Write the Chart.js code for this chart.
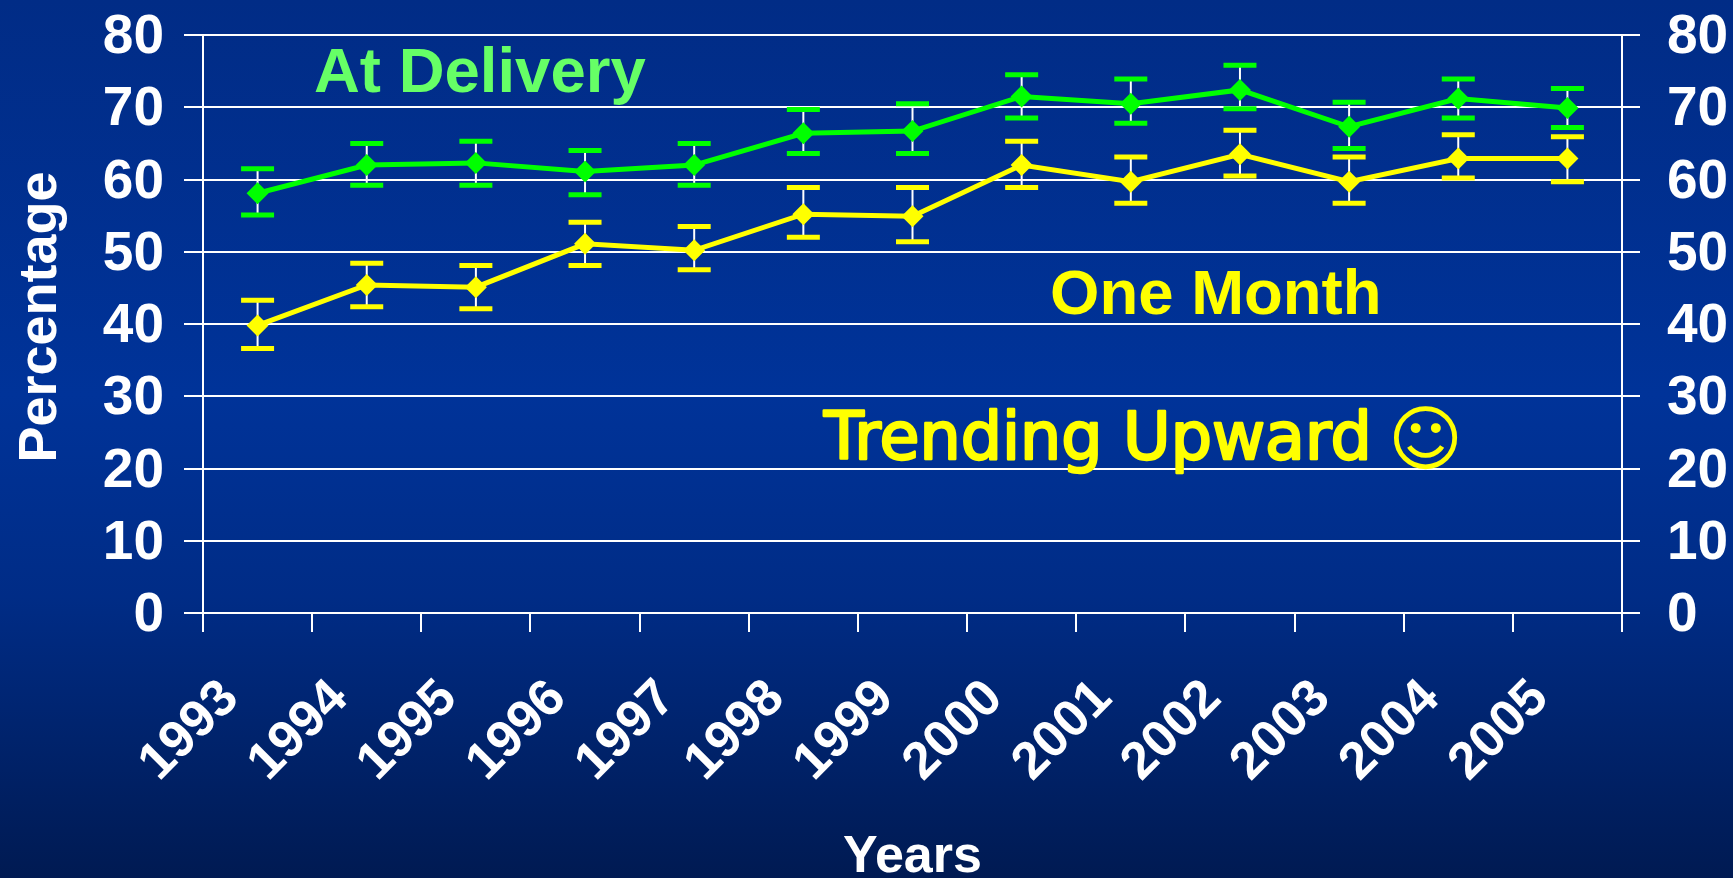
<!DOCTYPE html>
<html>
<head>
<meta charset="utf-8">
<style>html,body{margin:0;padding:0;background:#001a52;overflow:hidden}canvas{display:block}</style>
<script src="https://cdn.jsdelivr.net/npm/chart.js@4"></script>
</head>
<body>
<canvas id="c" width="1733" height="878"></canvas>
<script>
const years = ['1993','1994','1995','1996','1997','1998','1999','2000','2001','2002','2003','2004','2005'];
const deliveryValues = [58.1,62.0,62.3,61.1,62.0,66.4,66.7,71.5,70.5,72.4,67.3,71.2,69.9];
const deliveryUpper  = [61.5,65.0,65.3,64.0,65.0,69.7,70.5,74.5,73.9,75.8,70.7,73.9,72.6];
const deliveryLower  = [55.1,59.2,59.2,57.9,59.2,63.6,63.6,68.5,67.8,69.8,64.3,68.5,67.2];
const monthValues = [39.8,45.4,45.1,51.1,50.2,55.2,54.9,62.0,59.7,63.5,59.7,62.9,62.9];
const monthUpper  = [43.3,48.4,48.1,54.1,53.5,58.9,58.9,65.3,63.1,66.8,63.1,66.2,65.9];
const monthLower  = [36.6,42.4,42.1,48.1,47.5,52.0,51.4,58.9,56.7,60.5,56.7,60.2,59.7];

const GREEN='#00ff00', YELLOW='#ffff00', WHITE='#ffffff';
const tickFont={family:'"Liberation Sans"',size:55,weight:'bold'};
const xTickFont={family:'"Liberation Sans"',size:52,weight:'bold'};

const background={id:'background',beforeDraw(chart){
  const {ctx,width,height}=chart;
  const g=ctx.createLinearGradient(0,0,0,height);
  g.addColorStop(0,'#012c86');g.addColorStop(0.45,'#003399');g.addColorStop(0.68,'#002c86');g.addColorStop(1,'#001a52');
  ctx.save();ctx.fillStyle=g;ctx.fillRect(0,0,width,height);ctx.restore();
}};

const errorBars={id:'errorBars',beforeDatasetsDraw(chart){
  const {ctx}=chart,x=chart.scales.x,y=chart.scales.y;
  const sets=[[deliveryUpper,deliveryLower,GREEN],[monthUpper,monthLower,YELLOW]];
  ctx.save();
  sets.forEach(([up,lo,color])=>{
    up.forEach((u,i)=>{
      const px=x.getPixelForValue(i),pu=y.getPixelForValue(u),pl=y.getPixelForValue(lo[i]);
      ctx.strokeStyle=WHITE;ctx.lineWidth=2;
      ctx.beginPath();ctx.moveTo(px,pu);ctx.lineTo(px,pl);ctx.stroke();
      ctx.strokeStyle=color;ctx.lineWidth=5;
      [pu,pl].forEach(p=>{ctx.beginPath();ctx.moveTo(px-16.5,p);ctx.lineTo(px+16.5,p);ctx.stroke();});
    });
  });
  ctx.restore();
}};

const annotations={id:'annotations',afterDraw(chart){
  const {ctx}=chart;
  ctx.save();
  ctx.textBaseline='alphabetic';ctx.textAlign='left';
  ctx.font='bold 63.5px "Liberation Sans"';
  ctx.fillStyle='#66ff66';ctx.fillText('At Delivery',314,92);
  ctx.fillStyle=YELLOW;ctx.fillText('One Month',1050,314);
  ctx.lineJoin='round';ctx.lineCap='round';ctx.strokeStyle=YELLOW;ctx.lineWidth=2.5;
  ctx.font='65px "DejaVu Sans"';
  ctx.strokeText('Trending Upward',824,459);ctx.fillText('Trending Upward',824,459);
  ctx.font='72px "DejaVu Sans"';
  ctx.fillText('\u263A',1388,464);
  ctx.restore();
}};

new Chart(document.getElementById('c'),{
  type:'line',
  data:{labels:years,datasets:[
    {label:'At Delivery',data:deliveryValues,borderColor:GREEN,backgroundColor:GREEN,borderWidth:5,pointStyle:'rectRot',pointRadius:11,pointBorderWidth:0,tension:0,yAxisID:'y'},
    {label:'One Month',data:monthValues,borderColor:YELLOW,backgroundColor:YELLOW,borderWidth:5,pointStyle:'rectRot',pointRadius:11,pointBorderWidth:0,tension:0,yAxisID:'y'}
  ]},
  plugins:[background,errorBars,annotations],
  options:{
    responsive:false,animation:false,
    layout:{padding:{top:35,left:0,right:0,bottom:0}},
    plugins:{legend:{display:false},tooltip:{enabled:false}},
    scales:{
      x:{
        offset:true,
        afterFit(s){s.height=265;s.paddingLeft=0;s.paddingRight=0;},
        grid:{offset:true,drawOnChartArea:false,color:WHITE,lineWidth:2,tickLength:19},
        border:{display:false},
        ticks:{color:WHITE,font:xTickFont,maxRotation:45,minRotation:45,autoSkip:false,padding:36,labelOffset:-27},
        title:{display:true,text:'Years',color:WHITE,font:{family:'"Liberation Sans"',size:52,weight:'bold'},padding:{top:0,bottom:-11}}
      },
      y:{
        min:0,max:80,
        afterFit(s){s.width=203;s.paddingTop=0;s.paddingBottom=0;},
        afterUpdate(s){
          if(s._shifted)return;s._shifted=true;
          const draw=s.drawTitle;
          s.drawTitle=function(){s.ctx.save();s.ctx.translate(0,-7);draw.call(s);s.ctx.restore();};
        },
        ticks:{stepSize:10,color:WHITE,font:tickFont,padding:20,labelOffset:3},
        grid:{color:WHITE,lineWidth:2,tickLength:19},
        border:{display:true,color:WHITE,width:2},
        title:{display:true,text:'Percentage',color:WHITE,font:{family:'"Liberation Sans"',size:54,weight:'bold'},padding:{top:9,bottom:0}}
      },
      yRight:{
        position:'right',min:0,max:80,
        afterFit(s){s.width=111;s.paddingTop=0;s.paddingBottom=0;},
        ticks:{stepSize:10,color:WHITE,font:tickFont,padding:27,labelOffset:3},
        grid:{drawOnChartArea:false,color:WHITE,lineWidth:2,tickLength:18},
        border:{display:true,color:WHITE,width:2}
      }
    }
  }
});
</script>
</body>
</html>
